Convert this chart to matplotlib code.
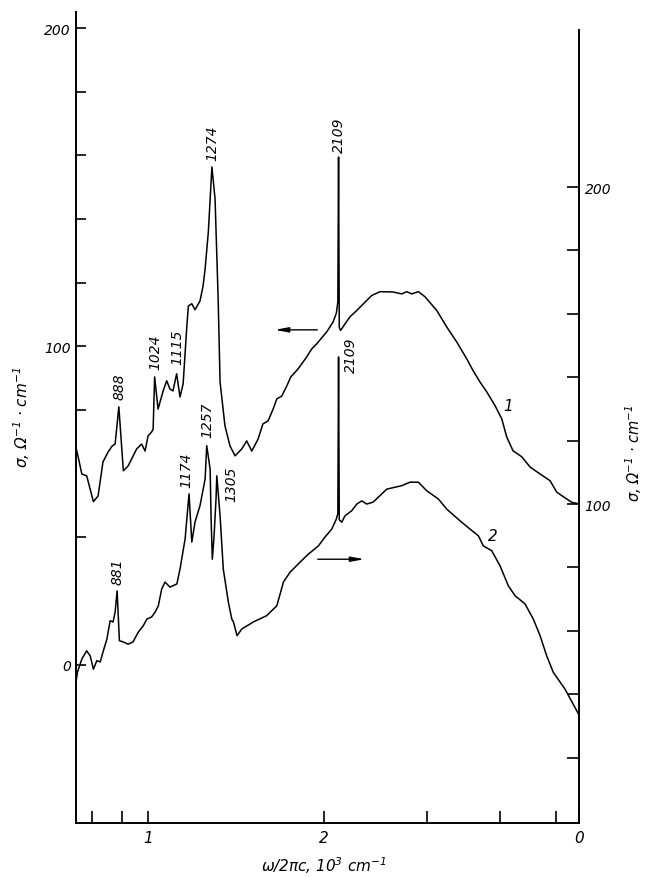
import numpy as np
import matplotlib
matplotlib.use("Agg")
import matplotlib.pyplot as plt
from matplotlib.ticker import NullLocator

plt.rcParams['font.family'] = ['DejaVu Sans']
plt.rcParams['font.style'] = 'italic'
plt.rcParams['mathtext.fontset'] = 'dejavusans'
plt.rcParams['mathtext.default'] = 'it'

# curve 1 (left axis), wavenumber cm^-1 and sigma
wn1 = [753, 758, 769, 784, 805, 820, 836, 853, 867, 877, 890, 906, 923, 955, 974, 987,
       999, 1013, 1019, 1025, 1039, 1060, 1075, 1089, 1102, 1118, 1133, 1147, 1164, 1171,
       1187, 1202, 1226, 1241, 1251, 1267, 1285, 1301, 1317, 1327, 1353, 1380, 1408, 1446,
       1474, 1504, 1542, 1571, 1604, 1636, 1660, 1693, 1727, 1754, 1805, 1868, 1905, 1943,
       2022, 2073, 2100, 2112, 2118, 2124, 2135, 2173, 2216, 2276, 2414, 2495, 2626, 2718,
       2772, 2827, 2902, 2979, 3120, 3246, 3376, 3512, 3601, 3701, 3801, 3927, 4033, 4113,
       4216, 4364, 4509, 4691, 4879, 5010, 5110, 5315, 5470]
sig1 = [67.5, 65.3, 59.9, 59.3, 51.2, 53.0, 63.7, 66.8, 68.7, 69.3, 81.0, 60.9, 62.4, 67.8,
        69.3, 67.1, 71.9, 73.1, 74.0, 90.4, 80.3, 86.0, 89.2, 86.6, 86.0, 91.4, 84.1, 88.2,
        106.4, 112.7, 113.4, 111.5, 114.3, 119.0, 124.4, 136.0, 156.4, 146.4, 115.0, 88.8,
        75.0, 68.7, 65.6, 67.8, 70.3, 67.1, 70.9, 75.6, 76.6, 80.3, 83.5, 84.4, 87.6, 90.4,
        92.9, 96.7, 99.2, 100.8, 104.6, 107.7, 110.5, 114.0, 159.5, 106.0, 105.0, 107.1,
        109.3, 111.3, 116.0, 117.2, 117.1, 116.5, 117.2, 116.5, 117.2, 115.6, 111.3, 106.1,
        101.4, 96.1, 92.4, 88.8, 85.7, 81.4, 77.2, 71.5, 67.2, 65.3, 62.1, 59.9, 57.8, 54.2,
        53.1, 51.0, 50.5]

# curve 2 (right axis)
wn2 = [753, 756, 769, 784, 795, 805, 816, 827, 836, 849, 860, 870, 877, 884, 892, 906, 923,
       941, 961, 980, 994, 1013, 1027, 1040, 1054, 1068, 1089, 1119, 1133, 1156, 1174, 1187,
       1202, 1226, 1251, 1259, 1276, 1281, 1287, 1296, 1306, 1310, 1327, 1344, 1371, 1390,
       1399, 1419, 1446, 1513, 1595, 1660, 1704, 1749, 1820, 1880, 1956, 2008, 2062, 2100,
       2112, 2118, 2124, 2145, 2173, 2231, 2276, 2321, 2367, 2427, 2562, 2718, 2808, 2902,
       2999, 3140, 3246, 3421, 3558, 3677, 3750, 3876, 4006, 4139, 4250, 4421, 4568, 4691,
       4816, 4943, 5177, 5470]
sig2 = [44.8, 47.0, 51.1, 53.7, 52.1, 47.9, 50.6, 50.2, 53.3, 57.4, 63.2, 62.8, 65.9, 72.6,
        56.9, 56.5, 55.8, 56.5, 59.6, 61.6, 63.7, 64.4, 65.9, 67.9, 73.2, 75.4, 73.8, 74.8,
        79.5, 89.0, 103.2, 88.0, 94.3, 99.5, 107.9, 118.4, 111.0, 95.0, 82.6, 90.0, 101.6,
        108.9, 96.3, 79.5, 69.1, 63.7, 62.8, 58.5, 60.6, 62.8, 64.8, 67.9, 75.4, 78.5, 81.7,
        84.2, 86.8, 89.6, 92.1, 95.3, 97.0, 146.4, 95.0, 94.3, 96.3, 97.9, 100.0, 101.0,
        100.0, 100.6, 104.7, 105.8, 106.9, 106.9, 104.2, 101.6, 98.4, 94.7, 92.1, 90.0, 86.8,
        85.3, 80.5, 74.2, 71.1, 68.5, 63.7, 58.5, 52.1, 46.9, 41.6, 33.5]

# peak labels: text, wavenumber, sigma of label base
peaks1 = ["888", "1024", "1115", "1274", "2109"]
peaks1_wn = [892, 1027, 1119, 1286, 2122]
peaks1_sig = [83.5, 93.0, 94.5, 158.5, 161.0]
peaks2 = ["881", "1174", "1257", "1305", "2109"]
peaks2_wn = [884, 1160, 1260, 1386, 2220]
peaks2_sig = [74.8, 105.4, 121.1, 101.0, 141.6]

fig = plt.figure(figsize=(6.47, 8.78), dpi=100)
ax = fig.add_axes([0.1182, 0.0615, 0.7767, 0.9237])
ax2 = ax.twinx()

ax.plot(wn1, sig1, color='black', lw=1.1)
ax2.plot(wn2, sig2, color='black', lw=1.1)

ax.set_xscale('log')
ax.set_xlim(753, 5470)
ax.set_ylim(-49.8, 205.1)
ax2.set_ylim(-0.6, 255.2)

ax.xaxis.set_minor_locator(NullLocator())
ax.set_xticks([800, 900, 1000, 2000, 3000, 4000, 5000, 5470],
              ['', '', '1', '2', '', '', '', '0'])
ax.set_yticks([0, 40, 80, 100, 120, 140, 160, 180, 200],
              ['0', '', '', '100', '', '', '', '', '200'])
ax2.set_yticks(np.arange(20, 201, 20),
               ['' if v not in (100, 200) else str(v) for v in range(20, 201, 20)])

ax.spines['top'].set_visible(False)
ax2.spines['top'].set_visible(False)
for s in ['left', 'bottom']:
    ax.spines[s].set_linewidth(1.4)
ax2.spines['right'].set_linewidth(1.4)
ax2.spines['right'].set_bounds(-0.6, 249.5)
ax.spines['right'].set_visible(False)
ax2.spines['left'].set_visible(False)
ax2.spines['bottom'].set_visible(False)

ax.tick_params(axis='x', direction='in', length=8.5, width=1.2, pad=5, labelsize=11)
ax.tick_params(axis='y', direction='in', length=7.5, width=1.2, pad=4, labelsize=10)
ax2.tick_params(axis='y', direction='in', length=8.5, width=1.2, pad=4, labelsize=10)

for t, x, y in zip(peaks1, peaks1_wn, peaks1_sig):
    ax.text(x, y, t, rotation=90, ha='center', va='bottom', fontsize=10)
for t, x, y in zip(peaks2, peaks2_wn, peaks2_sig):
    ax2.text(x, y, t, rotation=90, ha='center', va='bottom', fontsize=10)

ax.text(4134, 81.3, '1', fontsize=11, ha='center', va='center')
ax2.text(3896, 90.2, '2', fontsize=11, ha='center', va='center')

ax.annotate('', xy=(1629, 105.2), xytext=(1969, 105.2),
            arrowprops=dict(arrowstyle='-|>,head_length=0.8,head_width=0.15', color='black', lw=1))
ax2.annotate('', xy=(2370, 82.6), xytext=(1930, 82.6),
             arrowprops=dict(arrowstyle='-|>,head_length=0.8,head_width=0.15', color='black', lw=1))

fig.text(22 / 647, 1 - 417 / 878, 'σ, Ω$^{-1}$ · cm$^{-1}$', rotation=90,
         ha='center', va='center', fontsize=11)
fig.text(634 / 647, 1 - 453 / 878, 'σ, Ω$^{-1}$ · cm$^{-1}$', rotation=90,
         ha='center', va='center', fontsize=10.5)
fig.text(324 / 647, 1 - 866 / 878, 'ω/2πc, 10$^3$ cm$^{-1}$',
         ha='center', va='center', fontsize=11)

fig.savefig('out.png', dpi=100)
